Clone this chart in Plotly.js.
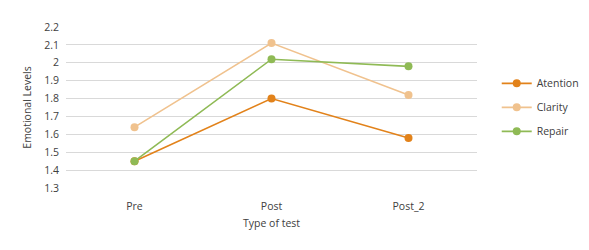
<!DOCTYPE html>
<html>
<head>
<meta charset="utf-8">
<script src="https://cdn.plot.ly/plotly-3.0.1.min.js"></script>
<style>html,body{margin:0;padding:0;background:#fff;}#chart{width:589px;height:250px;}</style>
</head>
<body>
<div id="chart"></div>
<script>
var categories = ["Pre", "Post", "Post_2"];
var atention = [1.45, 1.80, 1.58];
var clarity = [1.64, 2.11, 1.82];
var repair = [1.45, 2.02, 1.98];
var seriesNames = ["Atention", "Clarity", "Repair"];
var colors = ["#E2821A", "#F0C28E", "#8FBA55"];
var yTicks = [1.3, 1.4, 1.5, 1.6, 1.7, 1.8, 1.9, 2, 2.1, 2.2];

var data = [atention, clarity, repair].map(function (vals, i) {
  return {
    x: categories, y: vals, name: seriesNames[i], type: "scatter", mode: "lines+markers",
    legendgroup: "g" + i,
    line: {color: colors[i], width: 1.6},
    marker: {color: colors[i], size: 8}
  };
});

var layout = {
  width: 589, height: 250,
  margin: {l: 66, r: 112, t: 27, b: 62, autoexpand: false},
  paper_bgcolor: "#fff", plot_bgcolor: "#fff",
  font: {family: "Open Sans, sans-serif", size: 10.5, color: "#404040"},
  xaxis: {
    type: "category", range: [-0.5, 2.5], showgrid: false, zeroline: false, showline: false,
    ticks: "", ticklen: 0, ticklabelstandoff: 10, automargin: false,
    title: {text: "Type of test", standoff: 8, font: {size: 10.5}}
  },
  yaxis: {
    range: [1.3, 2.2], tickvals: yTicks, ticktext: yTicks.map(String), automargin: false,
    showgrid: true, gridcolor: "#D9D9D9", gridwidth: 1, zeroline: false, showline: false,
    ticks: "", ticklabelstandoff: 6,
    title: {text: "Emotional Levels", standoff: 10, font: {size: 10.5}}
  },
  legend: {
    x: 1.048, y: 0.74, xanchor: "left", yanchor: "top", traceorder: "grouped",
    tracegroupgap: 5, itemwidth: 30, font: {size: 10.5, color: "#404040"}
  },
  showlegend: true
};
Plotly.newPlot("chart", data, layout, {displayModeBar: false, staticPlot: true});
</script>
</body>
</html>
